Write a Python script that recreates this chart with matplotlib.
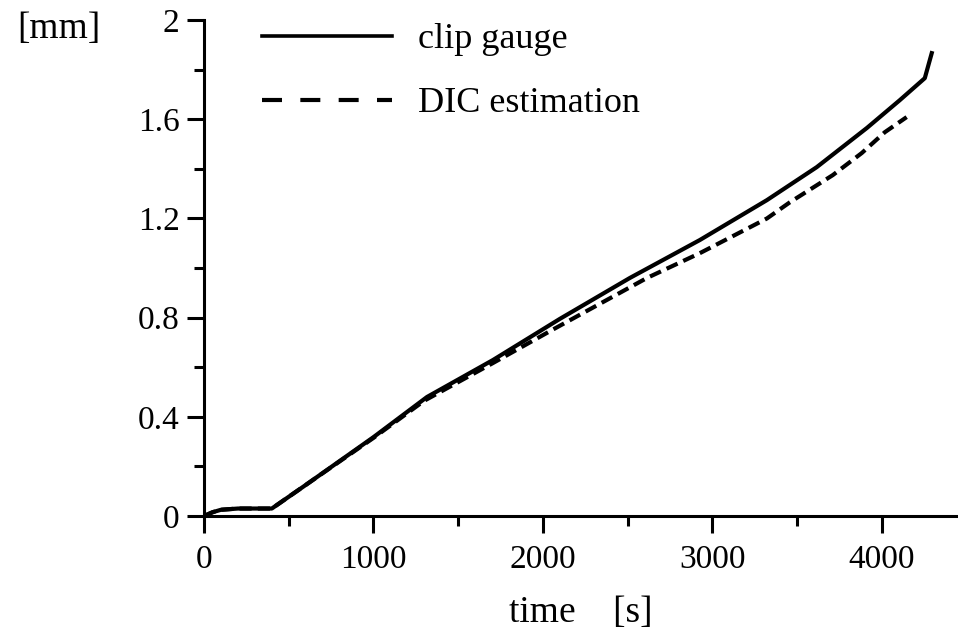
import matplotlib
matplotlib.use("Agg")
from matplotlib import pyplot as plt
from matplotlib.lines import Line2D
from matplotlib.ticker import MultipleLocator

plt.rcParams['font.family'] = ['Liberation Serif', 'DejaVu Serif']

# clip gauge readings (time s, opening mm)
clip_t = [0, 50, 100, 200, 400, 600, 1000, 1316, 1705, 2100, 2513, 2926, 3322, 3616, 3912, 4106, 4254, 4295]
clip_mm = [0, 0.015, 0.025, 0.03, 0.03, 0.125, 0.318, 0.48, 0.629, 0.795, 0.96, 1.113, 1.274, 1.407, 1.565, 1.677, 1.766, 1.867]

# DIC estimate
dic_t = [0, 50, 100, 200, 400, 600, 1000, 1300, 1700, 2059, 2614, 2926, 3322, 3457, 3711, 3882, 4018, 4147]
dic_mm = [0, 0.015, 0.025, 0.03, 0.03, 0.125, 0.315, 0.465, 0.615, 0.752, 0.96, 1.06, 1.2, 1.265, 1.375, 1.464, 1.548, 1.609]

fig = plt.figure(figsize=(9.58, 6.3), dpi=100)
ax = fig.add_axes([0.213, 0.181, 0.787, 0.787])

ax.plot(clip_t, clip_mm, color='black', lw=3)
ax.plot(dic_t, dic_mm, color='black', lw=3, dashes=(2.9, 1.5))

ax.set_xlim(0, 4450)
ax.set_ylim(0, 2)
ax.xaxis.set_major_locator(MultipleLocator(1000))
ax.xaxis.set_minor_locator(MultipleLocator(500))
ax.yaxis.set_major_locator(MultipleLocator(0.4))
ax.yaxis.set_minor_locator(MultipleLocator(0.2))
ax.set_yticks([0, 0.4, 0.8, 1.2, 1.6, 2])
ax.set_yticklabels(['0', '0.4', '0.8', '1.2', '1.6', '2'])

for s in ['top', 'right']:
    ax.spines[s].set_visible(False)
for s in ['left', 'bottom']:
    ax.spines[s].set_linewidth(2.2)
    ax.spines[s].set_clip_on(False)

ax.tick_params(which='major', length=12.5, width=2.2, labelsize=24, pad=5)
ax.tick_params(which='minor', length=7, width=2.2)
ax.tick_params(axis='x', which='major', pad=8)

ax.set_xlabel('time    [s]', fontsize=27, labelpad=15)
fig.text(0.018, 0.955, '[mm]', fontsize=27, va='center', ha='left')

# legend
h1 = Line2D([], [], color='black', lw=2.6)
h2 = Line2D([], [], color='black', lw=3, dashes=(4.8, 4.4))
ax.legend([h1, h2], ['clip gauge', 'DIC estimation'], loc='upper left',
          bbox_to_anchor=(0.034, 1.06), frameon=False, fontsize=26,
          handlelength=3.6, handletextpad=0.72, labelspacing=0.85)

fig.savefig('out.png', dpi=100)
